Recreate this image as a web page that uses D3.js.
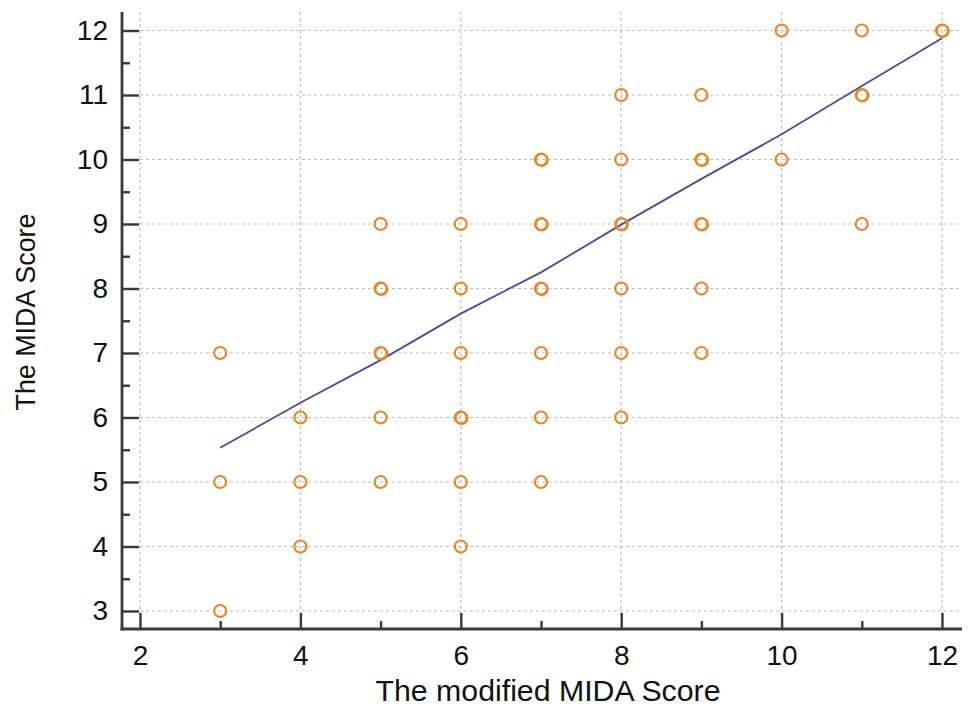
<!DOCTYPE html>
<html>
<head>
<meta charset="utf-8">
<script src="https://cdn.jsdelivr.net/npm/d3@7"></script>
<style>
  body { margin: 0; background: #fff; }
  svg { display: block; font-family: "Liberation Sans", Arial, sans-serif; }
</style>
</head>
<body>
<svg id="chart" width="969" height="712"></svg>
<script>
// Data
const pointX =     [3, 3, 3, 4, 4, 4, 5, 5, 5, 5, 5, 6, 6, 6, 6, 6, 6, 7, 7, 7, 7, 7, 7, 8, 8, 8, 8, 8, 8, 9, 9, 9, 9, 9, 10, 10, 11, 11, 11, 12];
const pointY =     [7, 5, 3, 6, 5, 4, 9, 8, 7, 6, 5, 9, 8, 7, 6, 5, 4, 10, 9, 8, 7, 6, 5, 11, 10, 9, 8, 7, 6, 11, 10, 9, 8, 7, 12, 10, 12, 11, 9, 12];
const pointCount = [1, 1, 1, 1, 1, 1, 1, 2, 2, 1, 1, 1, 1, 1, 2, 1, 1, 2, 2, 2, 1, 1, 1, 1, 1, 2, 1, 1, 1, 1, 2, 2, 1, 1, 1, 1, 1, 2, 1, 2];
const lineX = [3, 4, 5, 6, 7, 8, 9, 10, 11, 12];
const lineY = [5.53, 6.23, 6.89, 7.61, 8.25, 8.99, 9.70, 10.39, 11.14, 11.88];
const xMajorTicks = [2, 4, 6, 8, 10, 12];
const xMinorTicks = [3, 5, 7, 9, 11];
const yMajorTicks = [3, 4, 5, 6, 7, 8, 9, 10, 11, 12];
const yMinorTicks = [3.5, 4.5, 5.5, 6.5, 7.5, 8.5, 9.5, 10.5, 11.5];
const xTitle = "The modified MIDA Score";
const yTitle = "The MIDA Score";

const svg = d3.select("#chart");
const axisX0 = 122, axisY0 = 629, plotTop = 12, plotRight = 962;

const x = d3.scaleLinear().domain([2, 12]).range([140, 942]);
const y = d3.scaleLinear().domain([3, 12]).range([611, 30.5]);

const gridColor = "#bdbdbd";
const axisColor = "#3a3a3a";

// Grid
const grid = svg.append("g");
grid.selectAll("line.h").data(yMajorTicks).join("line")
  .attr("x1", axisX0).attr("x2", plotRight)
  .attr("y1", d => y(d)).attr("y2", d => y(d))
  .attr("stroke", gridColor).attr("stroke-width", 1.2).attr("stroke-dasharray", "3,3");
grid.selectAll("line.v").data(xMajorTicks).join("line")
  .attr("x1", d => x(d)).attr("x2", d => x(d))
  .attr("y1", plotTop).attr("y2", axisY0)
  .attr("stroke", gridColor).attr("stroke-width", 1.2).attr("stroke-dasharray", "3,3");

// Regression line
const line = d3.line().x(d => x(d[0])).y(d => y(d[1]));
svg.append("path")
  .datum(lineX.map((v, i) => [v, lineY[i]]))
  .attr("d", line)
  .attr("fill", "none").attr("stroke", "#4d4a9c").attr("stroke-width", 1.8);

// Points
const pts = pointX.map((v, i) => ({x: v, y: pointY[i], c: pointCount[i]}));
const pg = svg.append("g");
pts.forEach(p => {
  for (let k = 0; k < p.c; k++) {
    pg.append("circle")
      .attr("cx", x(p.x) + k * 0.7).attr("cy", y(p.y) + k * 0.5)
      .attr("r", 6)
      .attr("fill", "none").attr("stroke", "#e8872a").attr("stroke-width", 2.2);
  }
});

// Axes
const fs = 28;
const yAxis = svg.append("g").attr("transform", `translate(${axisX0},0)`)
  .call(d3.axisLeft(y).tickValues(yMajorTicks).tickSize(-17).tickPadding(14).tickFormat(d3.format("d")));
const yMinor = svg.append("g").attr("transform", `translate(${axisX0},0)`)
  .call(d3.axisLeft(y).tickValues(yMinorTicks).tickSize(-8).tickFormat(""));
const xAxis = svg.append("g").attr("transform", `translate(0,${axisY0})`)
  .call(d3.axisBottom(x).tickValues(xMajorTicks).tickSize(-16).tickPadding(16).tickFormat(d3.format("d")));
const xMinor = svg.append("g").attr("transform", `translate(0,${axisY0})`)
  .call(d3.axisBottom(x).tickValues(xMinorTicks).tickSize(-8).tickFormat(""));

[yAxis, yMinor, xAxis, xMinor].forEach(g => {
  g.selectAll("path.domain").remove();
  g.selectAll("line").attr("stroke", axisColor).attr("stroke-width", 2.4);
  g.selectAll("text").attr("font-size", fs).attr("fill", "#111")
    .attr("font-family", "'Liberation Sans', Arial, sans-serif");
});

// Axis lines
svg.append("line").attr("x1", axisX0).attr("x2", axisX0).attr("y1", plotTop).attr("y2", axisY0 + 1.5)
  .attr("stroke", axisColor).attr("stroke-width", 2.8);
svg.append("line").attr("x1", axisX0 - 1.4).attr("x2", plotRight).attr("y1", axisY0).attr("y2", axisY0)
  .attr("stroke", axisColor).attr("stroke-width", 2.8);

// Titles
svg.append("text").attr("x", 548).attr("y", 701).attr("text-anchor", "middle")
  .attr("font-size", 29).attr("fill", "#111")
  .attr("textLength", 345).attr("lengthAdjust", "spacingAndGlyphs").text(xTitle);
svg.append("text").attr("transform", "translate(35,312) rotate(-90)").attr("text-anchor", "middle")
  .attr("font-size", 28).attr("fill", "#111")
  .attr("textLength", 197).attr("lengthAdjust", "spacingAndGlyphs").text(yTitle);
</script>
</body>
</html>
